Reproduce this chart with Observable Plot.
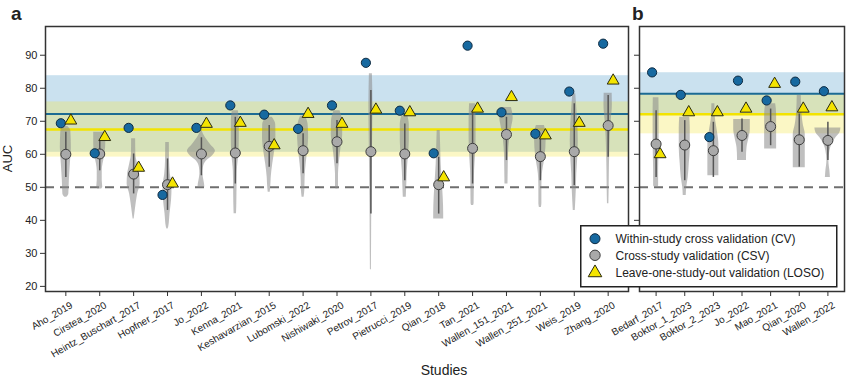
<!DOCTYPE html>
<html>
<head>
<meta charset="utf-8">
<script src="https://cdn.jsdelivr.net/npm/d3@7"></script>
<script src="https://cdn.jsdelivr.net/npm/@observablehq/plot@0.6"></script>
<style>
  body { margin: 0; background: #fff; }
  #chart { position: relative; width: 865px; height: 386px; font-family: Arial, "Liberation Sans", sans-serif; color: #222; overflow: hidden; }
  .abs { position: absolute; }
</style>
</head>
<body>
<div id="chart"></div>
<script>
// ---------- Data ----------
const yTicks = [20, 30, 40, 50, 60, 70, 80, 90];
const chanceLevel = [50];

// Panel a
const studiesA = ["Aho_2019","Cirstea_2020","Heintz_Buschart_2017","Hopfner_2017","Jo_2022","Kenna_2021","Keshavarzian_2015","Lubomski_2022","Nishiwaki_2020","Petrov_2017","Pietrucci_2019","Qian_2018","Tan_2021","Wallen_151_2021","Wallen_251_2021","Weis_2019","Zhang_2020"];
const cvA   = [69.4, 60.3, 68.0, 47.7, 68.0, 74.8, 72.0, 67.7, 74.8, 87.7, 73.2, 60.3, 92.9, 72.7, 66.2, 79.0, 93.5];
const csvA  = [60.0, 60.1, 54.0, 50.8, 60.1, 60.4, 62.4, 61.1, 63.8, 60.8, 60.1, 50.8, 61.8, 66.0, 59.3, 60.8, 68.7];
const losoA = [70.2, 65.2, 55.9, 51.1, 69.2, 69.5, 62.7, 72.2, 69.2, 73.5, 72.7, 53.0, 73.8, 77.3, 65.7, 69.5, 82.3];
// CSV distributions: [AUC, relative density]
const violinA = [
  [[68.4,2],[67,5],[62,5.5],[57,4.5],[52,3.5],[48,3],[47,1]],
  [[66.7,6],[63,6],[59,4.5],[55,2.5],[52,2.5],[50,3],[49.5,2]],
  [[64.7,2],[60,2.2],[57,4],[54,6],[51,6.5],[48,4],[45,2.5],[42,1.2],[40.4,0.5]],
  [[63.6,1.8],[58,2],[54,2.8],[50,4.5],[46,4],[42,2.5],[38,1.2],[37.4,0.5]],
  [[67.2,0.5],[65,4],[63,9],[61,14],[59.5,11],[58,5],[56,2],[54,1.5],[52,2.5],[50.5,3.3],[50,3.3]],
  [[73.2,3],[70,4],[65,4],[60,3.5],[55,2],[50,1.7],[45,1.5],[42,1.2]],
  [[71.2,3],[69,6.5],[65,6.7],[61,5.5],[57,3.5],[53,2],[50,1.5],[48.5,1]],
  [[71.5,2.5],[69,5],[65,5.5],[61,4.5],[57,3],[53,2],[49,1.7],[47,1]],
  [[73.2,3],[70,5.5],[66,5.7],[62,4],[58,2.5],[54,1.5],[50,1.5],[49.5,1]],
  [[84.4,1.5],[75,2],[65,1.7],[55,1.3],[45,0.9],[35,0.7],[25,0.5]],
  [[71.7,3],[69,4.5],[64,4.5],[59,3.5],[55,2.5],[51,2],[47,1.5]],
  [[67.2,1.5],[62,2],[57,2.5],[52,3.5],[47,4.5],[42,5],[40.4,5]],
  [[75.3,3],[70,3.5],[65,3.5],[60,3],[55,2],[50,1.7],[45,1.5],[44.5,1]],
  [[74.2,5],[71,6.7],[68,5],[64,3],[60,2],[55,1.7],[51,1.5]],
  [[68.7,4],[66,5.8],[62,5.5],[58,4],[54,2],[50,1.5],[45,1.5],[43.9,1]],
  [[78.3,1.5],[74,2.5],[69,3.5],[64,4],[59,3.5],[54,2.5],[49,2],[43,1]],
  [[78.5,4],[75,4.2],[70,3],[65,2],[60,1.5],[55,1.2],[50,1],[45,0.7]]
];
const rangeA = [[53,66.7],[55,64.1],[48,60.1],[43,58.6],[53.5,65],[51,71.2],[56.1,68.7],[54.1,66.2],[57.1,70.2],[41.9,79.3],[52,69.2],[41.9,59.1],[51,73.2],[58.1,71.2],[52,65.2],[50.5,75.3],[59.1,77.8]];
const cvMeanSdA = [72.2, 11.6];
const losoMeanSdA = [67.5, 8.35];

// Panel b
const studiesB = ["Bedarf_2017","Boktor_1_2023","Boktor_2_2023","Jo_2022","Mao_2021","Qian_2020","Wallen_2022"];
const cvB   = [84.8, 78.0, 65.2, 82.3, 76.3, 82.0, 79.1];
const csvB  = [63.1, 62.8, 61.1, 65.7, 68.4, 64.4, 64.2];
const losoB = [60.0, 72.7, 72.7, 73.8, 81.3, 73.8, 74.2];
const violinB = [
  [[77.1,2.8],[72,3],[66,3],[60,2.8],[55,2.5],[50.5,2.5],[50,1.5]],
  [[71.2,5],[68,5.5],[62,5.5],[57,4.5],[53,3.5],[50,2],[47.5,1.5]],
  [[75.3,1.5],[71,2],[67,4],[63,5.5],[58,5.5],[54,5.5],[53.5,5.5]],
  [[70.5,8.3],[67.5,8.3],[65,7],[62,5],[59,4.5],[58.1,4.5]],
  [[75.3,5],[72,6],[68,6],[64,6],[61.6,6]],
  [[77.8,2],[72,2.8],[69,4],[66,6],[60,6],[55.9,6]],
  [[68,13],[66.5,12],[65,8],[63,4],[61,2],[58,1],[55,2],[53,2.5]]
];
const rangeB = [[53,73.2],[52,70.2],[53,69.7],[60.6,70.7],[62.6,73.7],[56.1,72.2],[58.1,69.7]];
const cvMeanSdB = [78.3, 6.4];
const losoMeanSdB = [72.1, 5.9];

const legendLabels = ["Within-study cross validation (CV)", "Cross-study validation (CSV)", "Leave-one-study-out validation (LOSO)"];

// ---------- Styles ----------
const COL = {
  cvFill: "#1769a0", cvStroke: "#0e2b42",
  csvFill: "#a9a9a9", csvStroke: "#3d3d3d",
  losoFill: "#f4e400", losoStroke: "#2a2a10",
  cvBand: "#9fc9e2", losoBand: "#f2e64a",
  cvLine: "#1c6b93", losoLine: "#f2e300",
  violin: "#8a8a8a", rule: "#555", frame: "#333"
};

function makePanel(o) {
  const n = o.studies.length;
  const xd = [-o.pad, n - 1 + o.pad];
  const idx = d3.range(n);
  const step = (o.width - o.marginLeft - o.marginRight) / (xd[1] - xd[0]);
  const vdata = o.violins.flatMap((prof, i) =>
    prof.map(([v, w]) => ({i, v, w})).sort((a, b) => a.v - b.v));
  const pts = idx.map(i => ({i, cv: o.cv[i], csv: o.csv[i], loso: o.loso[i], lo: o.ranges[i][0], hi: o.ranges[i][1]}));
  const band = ([m, s]) => [{x1: xd[0], x2: xd[1], y1: m - s, y2: m + s}];
  return Plot.plot({
    width: o.width, height: 386,
    marginLeft: o.marginLeft, marginRight: o.marginRight, marginTop: 26, marginBottom: 95,
    style: {fontSize: "11px", fontFamily: "Arial, 'Liberation Sans', sans-serif", color: "#222", background: "transparent", overflow: "visible"},
    x: {domain: xd, ticks: idx, label: null, axis: null},
    y: {domain: [18.45, 98.7], label: null, axis: null},
    marks: [
      Plot.rect(band(o.cvBand), {x1: "x1", x2: "x2", y1: "y1", y2: "y2", fill: COL.cvBand, fillOpacity: 0.55}),
      Plot.rect(band(o.losoBand), {x1: "x1", x2: "x2", y1: "y1", y2: "y2", fill: COL.losoBand, fillOpacity: 0.32}),
      Plot.ruleY([o.cvBand[0]], {stroke: COL.cvLine, strokeWidth: 2}),
      Plot.ruleY([o.losoBand[0]], {stroke: COL.losoLine, strokeWidth: 2.5}),
      Plot.ruleY(chanceLevel, {stroke: "#6f6f6f", strokeWidth: 2, strokeDasharray: "9,6"}),
      Plot.areaX(vdata, {y: "v", x1: d => d.i - d.w / step, x2: d => d.i + d.w / step, z: "i",
        fill: COL.violin, fillOpacity: 0.55, curve: "monotone-y"}),
      Plot.ruleX(pts, {x: "i", y1: "lo", y2: "hi", stroke: COL.rule, strokeWidth: 1.5}),
      Plot.dot(pts, {x: "i", y: "csv", r: 5, fill: COL.csvFill, stroke: COL.csvStroke, strokeWidth: 1}),
      Plot.dot(pts, {x: "i", y: "cv", dx: o.dxCv, r: 4.6, fill: COL.cvFill, stroke: COL.cvStroke, strokeWidth: 1}),
      Plot.dot(pts, {x: "i", y: "loso", dx: o.dxLoso, symbol: "triangle", r: 4.4, fill: COL.losoFill, stroke: COL.losoStroke, strokeWidth: 1}),
      // x ticks
      Plot.axisX(idx, {anchor: "bottom", tickSize: 5, tickFormat: () => "", stroke: COL.frame, label: null}),
      // x tick labels (rotated, ending just right of each tick)
      Plot.axisX(idx, {anchor: "bottom", tickSize: 0, tickPadding: 13, dx: 6, tickRotate: -30,
        tickFormat: i => o.studies[i], fontSize: 10, fill: "#222", label: null}),
      Plot.axisY(yTicks, {anchor: "left", tickSize: 5, tickPadding: 3, stroke: COL.frame, fill: "#222",
        tickFormat: o.showYLabels ? d => d : () => "", label: null}),
      Plot.frame({stroke: COL.frame, strokeWidth: 1.5})
    ]
  });
}

const chart = document.getElementById("chart");

const pa = makePanel({studies: studiesA, cv: cvA, csv: csvA, loso: losoA, violins: violinA, ranges: rangeA,
  cvBand: cvMeanSdA, losoBand: losoMeanSdA, width: 632, marginLeft: 45, marginRight: 4, pad: 0.6,
  showYLabels: true, dxCv: -5, dxLoso: 5});
pa.classList.add("abs"); pa.style.left = "0px"; pa.style.top = "0px";
chart.appendChild(pa);

const pb = makePanel({studies: studiesB, cv: cvB, csv: csvB, loso: losoB, violins: violinB, ranges: rangeB,
  cvBand: cvMeanSdB, losoBand: losoMeanSdB, width: 265, marginLeft: 39, marginRight: 21, pad: 0.58,
  showYLabels: false, dxCv: -4, dxLoso: 4});
pb.classList.add("abs"); pb.style.left = "600px"; pb.style.top = "0px";
chart.appendChild(pb);

// Panel letters and axis titles
function addText(txt, css) {
  const d = document.createElement("div");
  d.className = "abs";
  d.textContent = txt;
  Object.assign(d.style, css);
  chart.appendChild(d);
  return d;
}
addText("a", {left: "11px", top: "4px", fontWeight: "bold", fontSize: "19px", lineHeight: "1"});
addText("b", {left: "632px", top: "4px", fontWeight: "bold", fontSize: "19px", lineHeight: "1"});
addText("AUC", {left: "-13px", top: "151px", width: "40px", textAlign: "center", fontSize: "13px", transform: "rotate(-90deg)"});
addText("Studies", {left: "394px", top: "362px", width: "100px", textAlign: "center", fontSize: "14px"});

// Legend
const lg = d3.select(chart).append("svg").attr("class", "abs")
  .style("left", "580px").style("top", "225px").attr("width", 258).attr("height", 63);
lg.append("rect").attr("x", 0.75).attr("y", 0.75).attr("width", 256).attr("height", 61)
  .attr("fill", "#fff").attr("stroke", "#222").attr("stroke-width", 1.5);
const rowsY = [13.7, 30.3, 47.3];
lg.append("circle").attr("cx", 15).attr("cy", rowsY[0]).attr("r", 5).attr("fill", COL.cvFill).attr("stroke", COL.cvStroke);
lg.append("circle").attr("cx", 15).attr("cy", rowsY[1]).attr("r", 5.2).attr("fill", COL.csvFill).attr("stroke", COL.csvStroke);
lg.append("path").attr("d", d3.symbol(d3.symbolTriangle, 80)()).attr("transform", `translate(15,${rowsY[2] + 0.5})`)
  .attr("fill", COL.losoFill).attr("stroke", COL.losoStroke);
lg.selectAll("text.l").data(legendLabels).join("text").attr("class", "l")
  .attr("x", 35.5).attr("y", (d, i) => rowsY[i]).attr("dy", "0.35em")
  .style("font-size", "12px").style("font-family", "Arial, 'Liberation Sans', sans-serif").attr("fill", "#222")
  .text(d => d);
</script>
</body>
</html>
